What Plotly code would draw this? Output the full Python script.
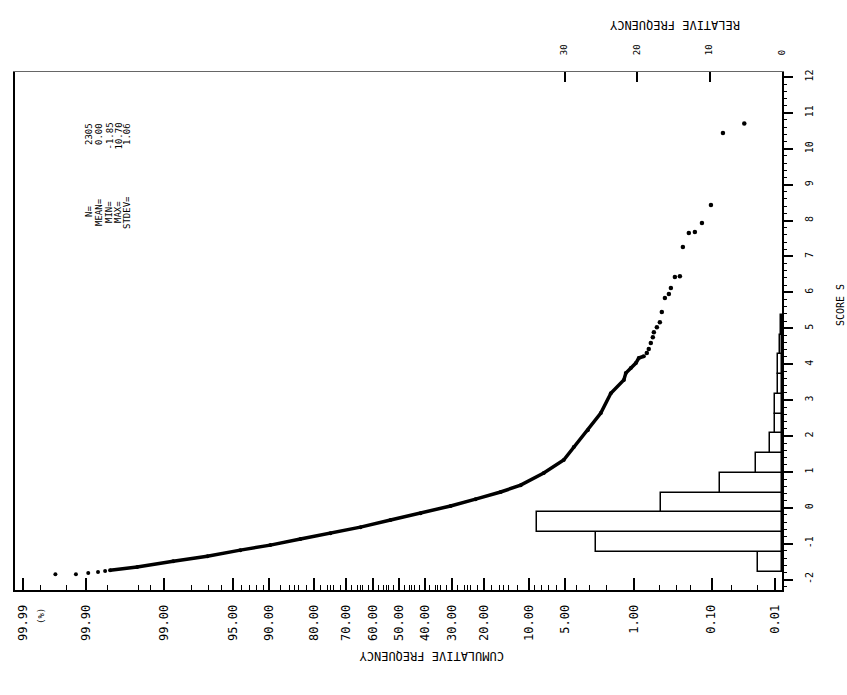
from statistics import NormalDist
import plotly.graph_objects as go

# ---------------- data ----------------
# probability-plot points: cumulative frequency (%) and score
left_pct = [99.966, 99.930, 99.894, 99.854, 99.817]
left_score = [-1.85, -1.85, -1.82, -1.79, -1.76]

dense_pct = [99.786, 99.519, 98.722, 97.10, 94.17, 89.84, 83.52, 75.11, 64.84,
             53.35, 41.57, 30.50, 22.45, 15.75, 11.45, 7.62, 5.17, 4.20, 3.10,
             2.30, 1.81, 1.31, 1.245, 1.095, 0.959, 0.887, 0.774]
dense_score = [-1.74, -1.65, -1.49, -1.35, -1.18, -1.04, -0.87, -0.71, -0.54,
               -0.34, -0.15, 0.05, 0.24, 0.44, 0.63, 0.97, 1.33, 1.69, 2.16,
               2.64, 3.19, 3.56, 3.75, 3.89, 4.03, 4.17, 4.22]

tail_pct = [0.714, 0.676, 0.639, 0.604, 0.587, 0.539, 0.495, 0.468, 0.428, 0.381,
            0.359, 0.319, 0.274, 0.250, 0.208, 0.172, 0.137, 0.102, 0.068, 0.032]
tail_score = [4.31, 4.42, 4.59, 4.75, 4.89, 5.03, 5.17, 5.45, 5.84, 5.95,
              6.12, 6.43, 6.45, 7.26, 7.65, 7.68, 7.93, 8.43, 10.44, 10.70]

# histogram (relative frequency %, bins of score)
bin_centers = [-1.505, -0.955, -0.405, 0.145, 0.695, 1.245, 1.795, 2.345,
               2.895, 3.445, 3.995, 4.545, 5.095]
bin_width = 0.55
rel_freq = [3.3, 25.7, 33.8, 16.7, 8.6, 3.6, 1.7, 1.0, 1.0, 0.55, 0.5, 0.3, 0.2]

# axis labels
prob_labels = [99.99, 99.90, 99.00, 95.00, 90.00, 80.00, 70.00, 60.00, 50.00,
               40.00, 30.00, 20.00, 10.00, 5.00, 1.00, 0.10, 0.01]
prob_minor = [99.98, 99.95, 99.8, 99.5, 99.3, 98, 97, 96, 94, 93, 92, 91,
              88, 86, 85, 84, 82, 78, 76, 75, 74, 72, 68, 66, 65, 64, 62,
              58, 56, 55, 54, 52, 48, 46, 45, 44, 42, 38, 36, 35, 34, 32,
              28, 26, 25, 24, 22, 18, 16, 15, 14, 12, 9, 8, 7, 6, 4, 3, 2,
              0.5, 0.3, 0.2, 0.05, 0.02]
score_ticks = [-2, -1, 0, 1, 2, 3, 4, 5, 6, 7, 8, 9, 10, 11, 12]
relfreq_ticks = [0, 10, 20, 30]

stat_names = ["N=", "MEAN=", "MIN=", "MAX=", "STDEV="]
stat_values = ["2305", "0.00", "-1.85", "10.70", "1.06"]

# ---------------- figure ----------------
nd = NormalDist()
z = lambda p: nd.inv_cdf(p / 100.0)

FONT = "DejaVu Sans Mono"
fig = go.Figure()

fig.add_trace(go.Bar(
    orientation="h", x=rel_freq, y=bin_centers, width=bin_width,
    xaxis="x2", yaxis="y",
    marker=dict(color="white", line=dict(color="black", width=1.5)),
    hoverinfo="skip"))

fig.add_trace(go.Scatter(
    x=[z(p) for p in left_pct], y=left_score, mode="markers",
    marker=dict(color="black", size=4)))
fig.add_trace(go.Scatter(
    x=[z(p) for p in dense_pct], y=dense_score, mode="lines+markers",
    line=dict(color="black", width=3.5),
    marker=dict(color="black", size=4)))
fig.add_trace(go.Scatter(
    x=[z(p) for p in tail_pct], y=tail_score, mode="markers",
    marker=dict(color="black", size=4.5)))

fig.update_layout(
    width=847, height=695,
    margin=dict(l=15, r=65, t=72, b=105),
    plot_bgcolor="white", paper_bgcolor="white",
    showlegend=False, bargap=0,
    font=dict(family=FONT, color="black", size=11),
    xaxis=dict(
        range=[3.797, -3.787],
        tickmode="array",
        tickvals=[z(p) for p in prob_labels],
        ticktext=[f"{p:.2f}" for p in prob_labels],
        tickangle=-90, ticks="inside", ticklen=12, tickwidth=1.5,
        tickcolor="black", ticklabelstandoff=8,
        tickfont=dict(family=FONT, size=12),
        showline=True, linecolor="black", linewidth=2,
        showgrid=False, zeroline=False,
        minor=dict(tickmode="array", tickvals=[z(p) for p in prob_minor],
                   ticks="inside", ticklen=5, tickwidth=1, tickcolor="black",
                   showgrid=False),
    ),
    xaxis2=dict(
        overlaying="x", side="top", anchor="y",
        range=[105.8, 0],
        tickmode="array", tickvals=relfreq_ticks,
        ticktext=[str(v) for v in relfreq_ticks],
        tickangle=-90, ticks="inside", ticklen=10, tickwidth=2,
        tickcolor="black", tickfont=dict(family=FONT, size=9),
        ticklabelstandoff=14,
        showline=True, linecolor="#666666", linewidth=1,
        showgrid=False, zeroline=False,
    ),
    yaxis=dict(
        side="right",
        range=[-2.29, 12.136],
        tickmode="array", tickvals=score_ticks,
        ticktext=[str(v) for v in score_ticks],
        tickangle=-90, ticks="outside", ticklen=9, tickwidth=1.5,
        tickcolor="black", tickfont=dict(family=FONT, size=10),
        ticklabelstandoff=8,
        showline=True, linecolor="black", linewidth=2, mirror=True,
        showgrid=False, zeroline=False,
        minor=dict(dtick=0.2, ticks="outside", ticklen=3, tickwidth=1,
                   tickcolor="black", showgrid=False),
    ),
)

def px(xp):
    return (xp - 15) / 767.0

def py(yp):
    return (590 - yp) / 518.0

ann = []
ann.append(dict(text="CUMULATIVE FREQUENCY", x=px(432), y=py(665),
                textangle=180, font=dict(size=12)))
ann.append(dict(text="RELATIVE FREQUENCY", x=px(675), y=py(16),
                textangle=180, font=dict(size=12)))
ann.append(dict(text="SCORE S", x=px(840), y=py(305), textangle=-90,
                font=dict(size=10)))
ann.append(dict(text="(%)", x=px(41), y=py(606), textangle=-90,
                yanchor="top", font=dict(size=9)))

stat_x = [89, 99, 109, 118, 127]
for name, val, xx in zip(stat_names, stat_values, stat_x):
    ann.append(dict(text=val, x=px(xx), y=py(121), textangle=-90,
                    yanchor="top", font=dict(size=9)))
    ann.append(dict(text=name, x=px(xx), y=py(212), textangle=-90,
                    yanchor="middle", font=dict(size=9)))

for a in ann:
    a.update(xref="paper", yref="paper", showarrow=False, xanchor="center")
fig.update_layout(annotations=ann)

fig.write_html("out.html")
